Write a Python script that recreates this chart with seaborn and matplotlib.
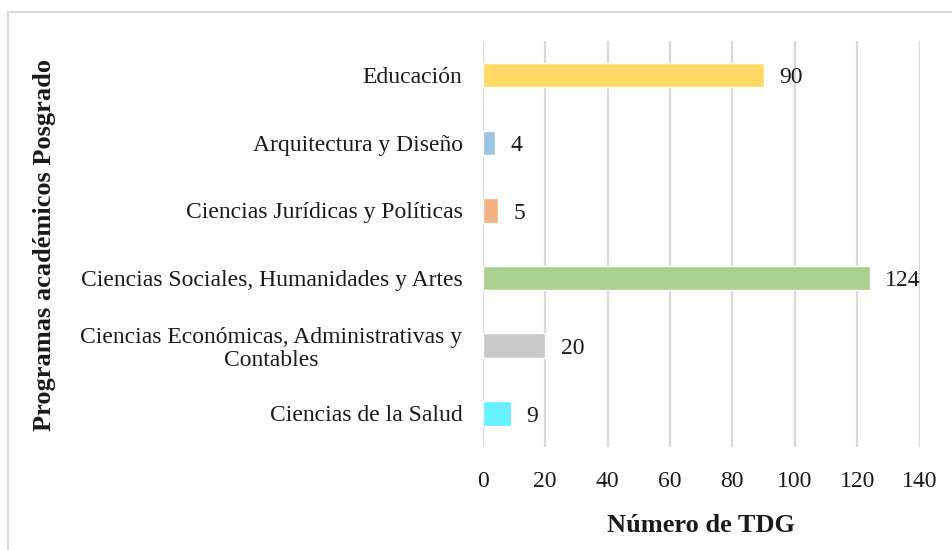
import numpy as np
import pandas as pd
import matplotlib.pyplot as plt
import seaborn as sns
from matplotlib.lines import Line2D

# Data
programas = [
    "Educación",
    "Arquitectura y Diseño",
    "Ciencias Jurídicas y Políticas",
    "Ciencias Sociales, Humanidades y Artes",
    "Ciencias Económicas, Administrativas y\nContables",
    "Ciencias de la Salud",
]
num_tdg = [90, 4, 5, 124, 20, 9]
colores = ["#FFD966", "#9DC3E6", "#F4B183", "#A9D18E", "#C9C9C9", "#66F2FF"]

sns.set_theme(style="white")
plt.rcParams['font.family'] = ['Liberation Serif', 'DejaVu Serif']

df = pd.DataFrame({"programa": programas, "tdg": num_tdg})

fig = plt.figure(figsize=(9.52, 5.5), dpi=100)
ax = fig.add_axes([0.507, 0.187, 0.459, 0.738])

sns.barplot(data=df, y="programa", x="tdg", hue="programa", palette=colores,
            legend=False, width=0.36, ax=ax, saturation=1, zorder=3)

ax.set_xlim(0, 140)
ax.set_xticks(np.arange(0, 141, 20))
ax.grid(axis='x', color='#D9D9D9', linewidth=1.6, zorder=0)
ax.set_axisbelow(True)
for s in ax.spines.values():
    s.set_visible(False)

ax.tick_params(axis='both', length=0, labelsize=17, colors='#1a1a1a')
ax.tick_params(axis='y', pad=14.5)
ax.tick_params(axis='x', pad=17)
for lbl in ax.get_yticklabels():
    lbl.set_multialignment('center')
    lbl.set_linespacing(1.1)

for i, v in enumerate(num_tdg):
    ax.text(v + 5, i + 0.04, str(v), va='center', ha='left', fontsize=17, color='#1a1a1a')

ax.set_xlabel("Número de TDG", fontsize=19, fontweight='bold', labelpad=16, color='#1a1a1a')
ax.set_ylabel("")
fig.text(0.047, 0.555, "Programas académicos Posgrado", rotation=90, fontsize=19,
         fontweight='bold', ha='center', va='center', color='#1a1a1a')

# chart border (top and left visible)
fig.add_artist(Line2D([8/952, 1], [1 - 12/550, 1 - 12/550], color='#D9D9D9', linewidth=1.5))
fig.add_artist(Line2D([8/952, 8/952], [0, 1 - 12/550], color='#D9D9D9', linewidth=1.5))

fig.savefig("out.png", dpi=100)
